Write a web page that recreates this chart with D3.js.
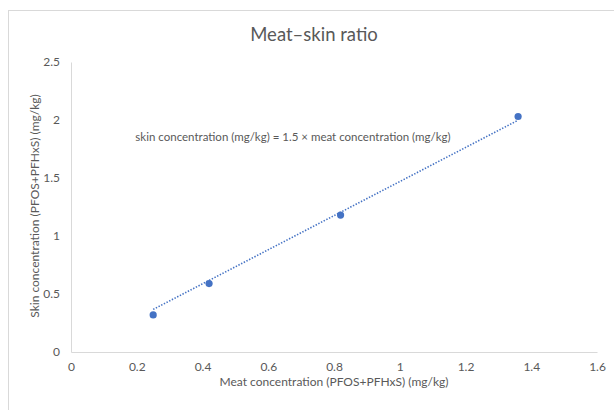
<!DOCTYPE html>
<html>
<head>
<meta charset="utf-8">
<script src="https://cdn.jsdelivr.net/npm/d3@7"></script>
<style>
  body { margin: 0; background: #fff; }
  svg text { font-family: Lato, "Open Sans", sans-serif; fill: #595959; }
</style>
</head>
<body>
<script>
// data
var meatConc = [0.25, 0.42, 0.82, 1.36];
var skinConc = [0.32, 0.59, 1.18, 2.03];
var xTicks = [0, 0.2, 0.4, 0.6, 0.8, 1, 1.2, 1.4, 1.6];
var yTicks = [0, 0.5, 1, 1.5, 2, 2.5];
var ratioLabel = "1.5";

var svgWidth = 614;
var svgHeight = 410;

var margin = {
    top: 62,
    right: 17,
    bottom: 58,
    left: 71
}

var chartWidth = svgWidth - margin.left - margin.right;
var chartHeight = svgHeight - margin.top - margin.bottom;

var svg = d3.select("body")
    .append("svg")
    .attr("width", svgWidth)
    .attr("height", svgHeight);

// outer chart frame
svg.append("rect")
    .attr("x", 8.5)
    .attr("y", 10.5)
    .attr("width", 640)
    .attr("height", 440)
    .attr("fill", "none")
    .attr("stroke", "#d9d9d9");

var chartGroup = svg.append("g")
    .attr("transform", `translate(${margin.left}, ${margin.top})`);

var xScale = d3.scaleLinear()
    .domain([0, 1.6])
    .range([0, chartWidth]);

var yScale = d3.scaleLinear()
    .domain([0, 2.5])
    .range([chartHeight, 0]);

var bottomAxis = d3.axisBottom(xScale)
    .tickValues(xTicks)
    .tickSize(0)
    .tickPadding(10)
    .tickFormat(d => d);
var leftAxis = d3.axisLeft(yScale)
    .tickValues(yTicks)
    .tickSize(0)
    .tickPadding(11)
    .tickFormat(d => d);

var yAxisG = chartGroup.append("g").call(leftAxis);
var xAxisG = chartGroup.append("g")
    .attr("transform", `translate(0, ${chartHeight})`)
    .call(bottomAxis);

[xAxisG, yAxisG].forEach(function(g) {
    g.select(".domain").attr("stroke", "#d9d9d9").attr("stroke-width", 1);
    g.selectAll("text")
        .attr("font-size", "12px")
        .attr("font-family", "Lato, sans-serif")
        .attr("fill", "#595959");
});

// trendline through the origin (least squares)
var sxy = d3.sum(meatConc, (m, i) => m * skinConc[i]);
var sxx = d3.sum(meatConc, m => m * m);
var slope = sxy / sxx;
var xExt = d3.extent(meatConc);

chartGroup.append("line")
    .attr("x1", xScale(xExt[0]))
    .attr("y1", yScale(slope * xExt[0]))
    .attr("x2", xScale(xExt[1]))
    .attr("y2", yScale(slope * xExt[1]))
    .attr("stroke", "#4472c4")
    .attr("stroke-width", 1.6)
    .attr("stroke-dasharray", "1.4,1.6");

chartGroup.selectAll("circle")
    .data(meatConc)
    .enter()
    .append("circle")
    .attr("cx", (d) => xScale(d))
    .attr("cy", (d, i) => yScale(skinConc[i]))
    .attr("r", 3.6)
    .attr("fill", "#4472c4");

svg.append("text")
    .attr("x", 314)
    .attr("y", 41)
    .attr("text-anchor", "middle")
    .attr("font-size", "18.5px")
    .text("Meat\u2013skin ratio");

svg.append("text")
    .attr("x", 293)
    .attr("y", 141)
    .attr("text-anchor", "middle")
    .attr("font-size", "11.5px")
    .text("skin concentration (mg/kg) = " + ratioLabel + " \u00d7 meat concentration (mg/kg)");

svg.append("text")
    .attr("transform", `translate(334, 386)`)
    .attr("text-anchor", "middle")
    .attr("font-size", "12px")
    .text("Meat concentration (PFOS+PFHxS) (mg/kg)");

svg.append("text")
    .attr("transform", "translate(39, 206) rotate(-90)")
    .attr("text-anchor", "middle")
    .attr("font-size", "12px")
    .text("Skin concentration (PFOS+PFHxS) (mg/kg)");
</script>
</body>
</html>
